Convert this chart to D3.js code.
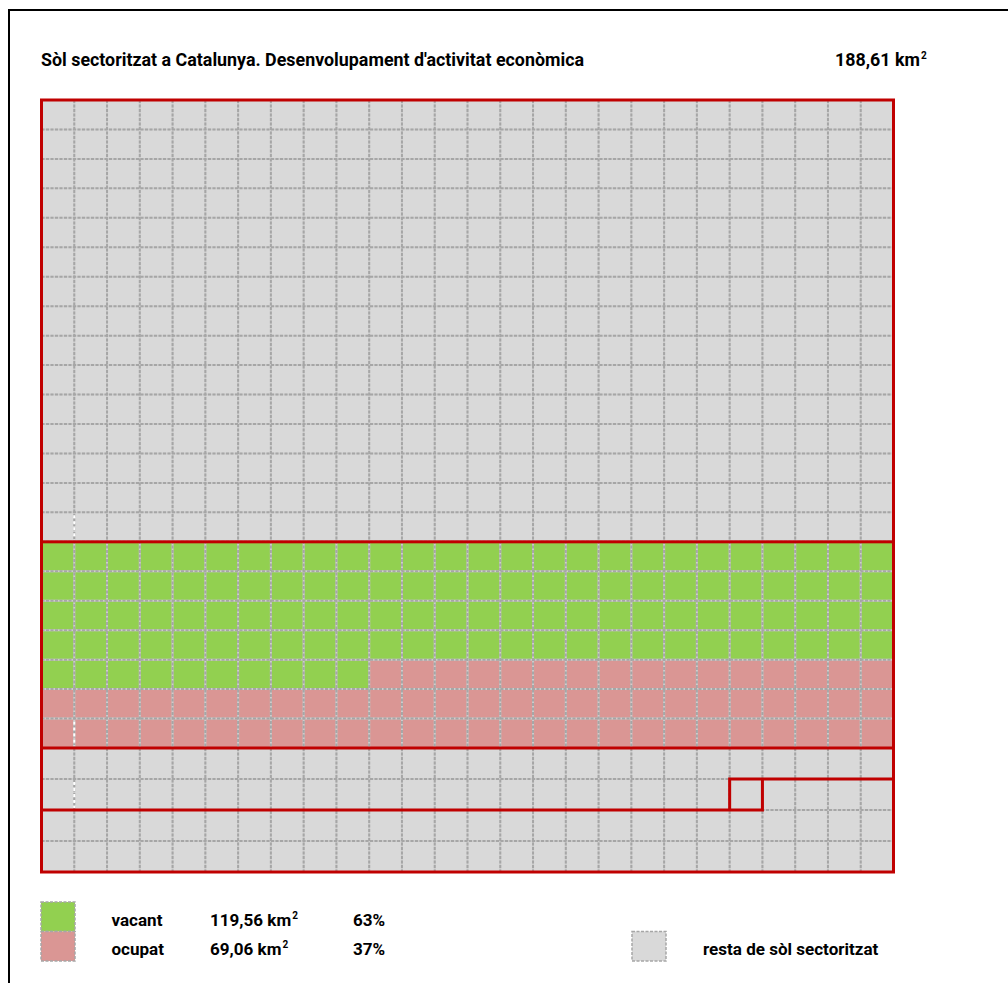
<!DOCTYPE html>
<html>
<head>
<meta charset="utf-8">
<script src="https://cdn.jsdelivr.net/npm/d3@7"></script>
<style>
  body { margin: 0; background: #fff; }
  text { font-family: "Liberation Sans Narrow", Roboto, "Open Sans", sans-serif; font-weight: bold; fill: #000; }
</style>
</head>
<body>
<svg width="1008" height="983"></svg>
<script>
// data
const title = "Sòl sectoritzat a Catalunya. Desenvolupament d'activitat econòmica";
const totalArea = '188,61 km';
const nCols = 26;
const nRows = 26;
const categories = ['vacant', 'ocupat'];
const areaLabels = ['119,56 km', '69,06 km'];
const shareLabels = ['63%', '37%'];
const cellCounts = [114, 68];        // cells for vacant, ocupat
const blockStartRow = 15;            // first row of the economic-activity block
const blockRows = 7;
const restLabel = 'resta de sòl sectoritzat';
const whiteMarkRows = [14, 21, 23];  // rows where the first column line shows white

(function (d3) {
    'use strict';
    const svg = d3.select('svg');
    const colors = { vacant: '#92d050', ocupat: '#da9694', rest: '#d9d9d9' };
    const red = '#c00000';

    const x = d3.scaleLinear().domain([0, nCols]).range([41.5, 893.5]);
    const y = d3.scaleLinear().domain([0, 22, nRows]).range([100, 748, 872]);

    // outer frame
    svg.append('path')
        .attr('d', 'M1008,10H9V983')
        .attr('fill', 'none')
        .attr('stroke', '#000')
        .attr('stroke-width', 2);

    // cells
    const cells = d3.range(nCols * nRows).map(i => {
        const row = Math.floor(i / nCols), col = i % nCols;
        let cat = 'rest';
        if (row >= blockStartRow) {
            const k = i - blockStartRow * nCols;
            if (k < cellCounts[0]) cat = 'vacant';
            else if (k < cellCounts[0] + cellCounts[1]) cat = 'ocupat';
        }
        return { row, col, cat };
    });

    const g = svg.append('g');
    g.selectAll('rect.cell').data(cells)
        .enter().append('rect')
        .attr('class', 'cell')
        .attr('x', d => x(d.col))
        .attr('y', d => y(d.row))
        .attr('width', d => x(d.col + 1) - x(d.col))
        .attr('height', d => y(d.row + 1) - y(d.row))
        .attr('fill', d => colors[d.cat]);

    // dashed grid lines
    const vLines = d3.range(1, nCols);
    const hLines = d3.range(1, nRows);
    const gridLine = sel => {
        sel.append('g').selectAll('line').data(vLines)
            .enter().append('line')
            .attr('x1', d => x(d)).attr('x2', d => x(d))
            .attr('y1', y(0)).attr('y2', y(nRows));
        sel.append('g').selectAll('line').data(hLines)
            .enter().append('line')
            .attr('x1', x(0)).attr('x2', x(nCols))
            .attr('y1', d => y(d)).attr('y2', d => y(d));
    };
    g.append('g')
        .attr('stroke', '#cdcdcd')
        .attr('stroke-width', 2)
        .call(gridLine);
    g.append('g')
        .attr('stroke', '#a6a6a6')
        .attr('stroke-width', 2)
        .attr('stroke-dasharray', '3,1.5')
        .call(gridLine);

    g.selectAll('line.white').data(whiteMarkRows)
        .enter().append('line')
        .attr('class', 'white')
        .attr('x1', x(1)).attr('x2', x(1))
        .attr('y1', d => y(d) + 3).attr('y2', d => y(d + 1) - 2)
        .attr('stroke', '#fff')
        .attr('stroke-width', 2)
        .attr('stroke-dasharray', '3,3');

    // red outlines
    const outline = g.append('g')
        .attr('fill', 'none')
        .attr('stroke', red)
        .attr('stroke-width', 3);
    outline.append('rect')
        .attr('x', x(0)).attr('y', y(0))
        .attr('width', x(nCols) - x(0)).attr('height', y(nRows) - y(0));
    outline.append('rect')
        .attr('x', x(0)).attr('y', y(blockStartRow))
        .attr('width', x(nCols) - x(0))
        .attr('height', y(blockStartRow + blockRows) - y(blockStartRow));
    const stepRow = blockStartRow + blockRows + 1;
    outline.append('path')
        .attr('d', `M${x(0)},${y(stepRow + 1)}H${x(22)}V${y(stepRow)}H${x(21)}V${y(stepRow + 1)}` +
                   `M${x(21)},${y(stepRow)}H${x(nCols)}`);

    // texts: one horizontal squeeze factor taken from the title width
    const fs = 18;
    const legendFs = 17.2;
    const titleT = svg.append('text')
        .attr('x', 41).attr('y', 66)
        .style('font-size', fs + 'px')
        .text(title);
    const squeeze = Math.min(1.15, 543 / titleT.node().getComputedTextLength());
    titleT.attr('textLength', 543).attr('lengthAdjust', 'spacingAndGlyphs');

    const addText = (str, px, py, size, withSup) => {
        const t = svg.append('text')
            .attr('x', px).attr('y', py)
            .style('font-size', size + 'px');
        const main = t.append('tspan').text(str);
        const w = main.node().getComputedTextLength();
        main.attr('textLength', w * squeeze).attr('lengthAdjust', 'spacingAndGlyphs');
        if (withSup) {
            t.append('tspan')
                .attr('x', px + w * squeeze + 1)
                .attr('dy', -7)
                .style('font-size', '10px')
                .text('2');
        }
        return t;
    };

    addText(totalArea, 835, 66, fs, true);

    // legend
    const legendY = [902, 931.5];
    const sw = svg.append('g');
    categories.forEach((c, i) => {
        sw.append('rect')
            .attr('x', 41).attr('y', legendY[i])
            .attr('width', 34).attr('height', 29.5)
            .attr('fill', colors[c])
            .attr('stroke', '#a6a6a6')
            .attr('stroke-width', 1.5)
            .attr('stroke-dasharray', '3,1.5');
        addText(c, 111.5, legendY[i] + 23.5, legendFs, false);
        addText(areaLabels[i], 210, legendY[i] + 23.5, legendFs, true);
        addText(shareLabels[i], 353, legendY[i] + 23.5, legendFs, false);
    });
    sw.append('rect')
        .attr('x', 632).attr('y', 931.5)
        .attr('width', 34).attr('height', 29.5)
        .attr('fill', colors.rest)
        .attr('stroke', '#a6a6a6')
        .attr('stroke-width', 1.5)
        .attr('stroke-dasharray', '3,1.5');
    addText(restLabel, 703, 955, legendFs, false);
}(d3));
</script>
</body>
</html>
